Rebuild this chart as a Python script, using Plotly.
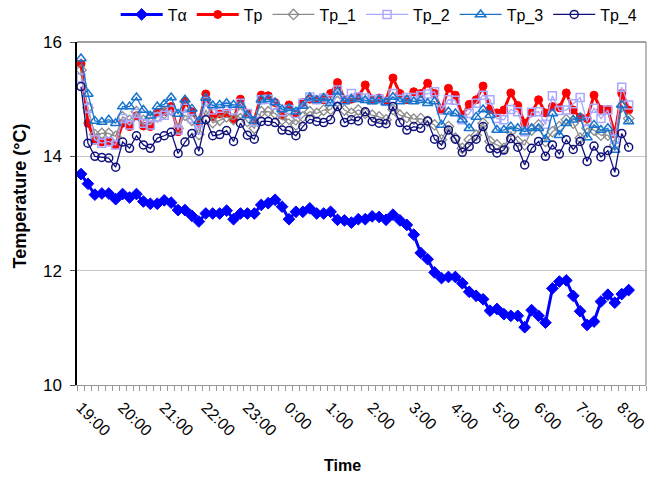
import plotly.graph_objects as go

# readings taken every 10 minutes starting at 19:00
hour_labels = ["19:00", "20:00", "21:00", "22:00", "23:00", "0:00", "1:00",
               "2:00", "3:00", "4:00", "5:00", "6:00", "7:00", "8:00"]
sample_minutes = 10

t_alpha = [13.69, 13.52, 13.33, 13.35, 13.35, 13.25, 13.34, 13.28, 13.34, 13.21,
           13.17, 13.17, 13.23, 13.19, 13.06, 13.06, 12.96, 12.86, 13.00, 13.00,
           13.00, 13.05, 12.90, 13.00, 13.00, 13.00, 13.15, 13.18, 13.24, 13.12,
           12.90, 13.03, 13.03, 13.09, 13.00, 13.00, 13.03, 12.89, 12.88, 12.84,
           12.90, 12.90, 12.95, 12.94, 12.89, 12.98, 12.88, 12.80, 12.63, 12.31,
           12.20, 11.97, 11.87, 11.89, 11.89, 11.78, 11.63, 11.56, 11.50, 11.30,
           11.33, 11.24, 11.21, 11.21, 11.01, 11.31, 11.21, 11.09, 11.69, 11.81,
           11.83, 11.56, 11.29, 11.05, 11.11, 11.46, 11.58, 11.44, 11.59, 11.66]

t_p = [15.62, 14.58, 14.28, 14.25, 14.25, 14.20, 14.58, 14.52, 14.71, 14.53,
       14.52, 14.76, 14.78, 14.87, 14.43, 14.96, 14.78, 14.58, 15.09, 14.69,
       14.74, 14.75, 14.65, 15.00, 14.75, 14.63, 15.07, 15.06, 14.94, 14.72,
       14.90, 14.75, 14.94, 15.00, 14.99, 14.99, 15.10, 15.29, 15.00, 15.00,
       15.04, 15.25, 15.00, 15.02, 14.97, 15.37, 15.10, 14.99, 15.13, 15.10,
       15.28, 15.10, 14.81, 15.19, 15.07, 14.72, 14.91, 14.99, 15.23, 14.82,
       14.76, 14.81, 15.11, 14.89, 14.58, 14.76, 14.99, 14.76, 14.87, 14.85,
       15.11, 14.81, 14.68, 14.66, 15.07, 14.82, 14.82, 14.39, 15.10, 14.81]

t_p1 = [15.51, 14.85, 14.38, 14.40, 14.40, 14.35, 14.69, 14.63, 14.78, 14.63,
        14.66, 14.69, 14.75, 14.81, 14.49, 14.72, 14.63, 14.38, 14.81, 14.59,
        14.63, 14.69, 14.64, 14.75, 14.61, 14.49, 14.78, 14.78, 14.75, 14.64,
        14.65, 14.55, 14.69, 14.78, 14.75, 14.81, 14.82, 14.96, 14.81, 14.75,
        14.81, 14.75, 14.72, 14.69, 14.64, 14.82, 14.72, 14.68, 14.65, 14.66,
        14.61, 14.55, 14.29, 14.52, 14.32, 14.14, 14.29, 14.37, 14.58, 14.26,
        14.20, 14.14, 14.43, 14.26, 14.20, 14.46, 14.55, 14.26, 14.43, 14.52,
        14.64, 14.58, 14.32, 14.49, 14.46, 14.37, 14.37, 14.20, 14.87, 14.66]

t_p2 = [15.37, 14.84, 14.29, 14.23, 14.26, 14.20, 14.66, 14.55, 14.75, 14.58,
        14.55, 14.69, 14.72, 14.81, 14.46, 14.84, 14.66, 14.46, 14.96, 14.81,
        14.84, 14.87, 14.81, 14.93, 14.75, 14.61, 14.99, 15.00, 14.90, 14.78,
        14.82, 14.75, 14.93, 15.04, 14.99, 15.02, 14.99, 15.16, 14.99, 15.10,
        15.04, 15.02, 14.99, 15.00, 14.96, 15.10, 15.00, 15.03, 15.03, 15.06,
        15.09, 15.13, 14.81, 14.99, 14.98, 14.64, 14.75, 14.93, 15.07, 14.99,
        14.66, 14.64, 14.82, 14.78, 14.43, 14.77, 14.78, 14.56, 15.06, 14.80,
        14.81, 14.92, 15.03, 14.61, 14.84, 14.66, 14.81, 14.30, 15.21, 14.90]

t_p3 = [15.71, 15.09, 14.62, 14.60, 14.64, 14.58, 14.87, 14.87, 15.03, 14.81,
        14.71, 14.87, 14.91, 15.03, 14.74, 14.99, 14.83, 14.62, 15.02, 14.89,
        14.90, 14.93, 14.90, 14.90, 14.72, 14.62, 14.99, 15.00, 14.94, 14.82,
        14.84, 14.78, 14.88, 15.03, 14.98, 15.02, 14.93, 15.13, 14.96, 15.00,
        15.00, 14.98, 14.96, 14.99, 14.94, 15.04, 14.96, 14.99, 14.96, 14.98,
        14.93, 14.96, 14.55, 14.78, 14.75, 14.64, 14.49, 14.69, 14.82, 14.72,
        14.46, 14.46, 14.52, 14.49, 14.43, 14.49, 14.49, 14.30, 14.75, 14.37,
        14.58, 14.64, 14.68, 14.33, 14.55, 14.46, 14.49, 14.11, 14.90, 14.61]

t_p4 = [15.22, 14.23, 14.00, 13.98, 13.97, 13.81, 14.25, 14.14, 14.36, 14.20,
        14.14, 14.32, 14.36, 14.42, 14.05, 14.25, 14.40, 14.09, 14.64, 14.36,
        14.38, 14.45, 14.26, 14.58, 14.37, 14.30, 14.61, 14.61, 14.59, 14.46,
        14.45, 14.36, 14.52, 14.65, 14.61, 14.59, 14.64, 14.87, 14.59, 14.64,
        14.62, 14.78, 14.61, 14.58, 14.57, 14.87, 14.59, 14.46, 14.52, 14.49,
        14.62, 14.30, 14.20, 14.46, 14.30, 14.07, 14.17, 14.30, 14.52, 14.14,
        14.06, 14.11, 14.31, 14.16, 13.85, 14.14, 14.26, 14.00, 14.20, 14.04,
        14.29, 14.12, 14.26, 13.91, 14.18, 13.99, 14.10, 13.72, 14.40, 14.16]

# elapsed minutes since 19:00
minutes = [i * sample_minutes for i in range(len(t_alpha))]
hour_ticks = [60 * h for h in range(len(hour_labels))]

FONT = "Liberation Sans, Arial, Helvetica, sans-serif"

series = [
    ("T\u03b1", t_alpha, dict(color="#0000FF", width=3),
     dict(symbol="diamond", size=9, color="#0000FF", line=dict(color="#0000FF", width=1))),
    ("Tp", t_p, dict(color="#FF0000", width=3),
     dict(symbol="circle", size=8, color="#FF0000", line=dict(color="#FF0000", width=1))),
    ("Tp_1", t_p1, dict(color="#8C8C8C", width=1.3),
     dict(symbol="diamond-open", size=8, color="#8C8C8C", line=dict(width=1.3))),
    ("Tp_2", t_p2, dict(color="#A8A8FF", width=1.3),
     dict(symbol="square-open", size=8, color="#A8A8FF", line=dict(width=1.5))),
    ("Tp_3", t_p3, dict(color="#1874CD", width=1.3),
     dict(symbol="triangle-up-open", size=9, color="#1874CD", line=dict(width=1.5))),
    ("Tp_4", t_p4, dict(color="#10107A", width=1.3),
     dict(symbol="circle-open", size=8, color="#10107A", line=dict(width=1.5))),
]

fig = go.Figure()
for name, values, line, marker in series:
    fig.add_trace(go.Scatter(x=minutes, y=values, name=name, mode="lines+markers",
                             line=line, marker=marker))

fig.update_layout(
    width=650, height=478,
    margin=dict(l=77, r=4, t=42, b=93, autoexpand=False),
    paper_bgcolor="white", plot_bgcolor="white",
    font=dict(family=FONT, size=14, color="black"),
    showlegend=True,
    legend=dict(orientation="h", x=0.068, xanchor="left", y=1.08, yanchor="middle",
                font=dict(size=16, family=FONT), bgcolor="rgba(0,0,0,0)",
                tracegroupgap=0, itemwidth=42),
    shapes=[
        # top and right frame of the plotting area
        dict(type="line", xref="paper", yref="paper", x0=0, x1=1, y0=1, y1=1,
             line=dict(color="#444444", width=1.2)),
        dict(type="line", xref="paper", yref="paper", x0=1, x1=1, y0=0, y1=1,
             line=dict(color="#777777", width=1)),
    ],
    annotations=[
        dict(text="<b>Temperature (\u00b0C)</b>", xref="paper", yref="paper",
             x=-0.100, y=0.55, textangle=-90, showarrow=False,
             xanchor="center", yanchor="middle", font=dict(size=18, family=FONT)),
        dict(text="<b>Time</b>", xref="paper", yref="paper",
             x=0.466, y=-0.236, showarrow=False,
             xanchor="center", yanchor="middle", font=dict(size=16, family=FONT)),
    ],
)

fig.update_xaxes(
    range=[-0.58 * sample_minutes, 81.5 * sample_minutes],
    tickmode="array", tickvals=hour_ticks, ticktext=hour_labels,
    tickangle=45, tickfont=dict(size=16, family=FONT), ticklabelstandoff=6,
    ticklabeloverflow="allow",
    ticks="", showgrid=False, zeroline=False,
    showline=True, linecolor="#999999", linewidth=1, mirror=False,
    minor=dict(tickmode="linear", tick0=sample_minutes / 2, dtick=sample_minutes,
               ticks="outside", ticklen=5, tickcolor="#999999", tickwidth=1,
               showgrid=False),
)

fig.update_yaxes(
    range=[10, 16], tickvals=[10, 12, 14, 16],
    tickfont=dict(size=17, family=FONT),
    ticks="outside", ticklen=5, tickcolor="#555555", ticklabelstandoff=5,
    showgrid=True, gridcolor="#C8C8C8", gridwidth=1, zeroline=False,
    showline=True, linecolor="black", linewidth=1.5, mirror=False,
)

fig.write_html("out.html")
